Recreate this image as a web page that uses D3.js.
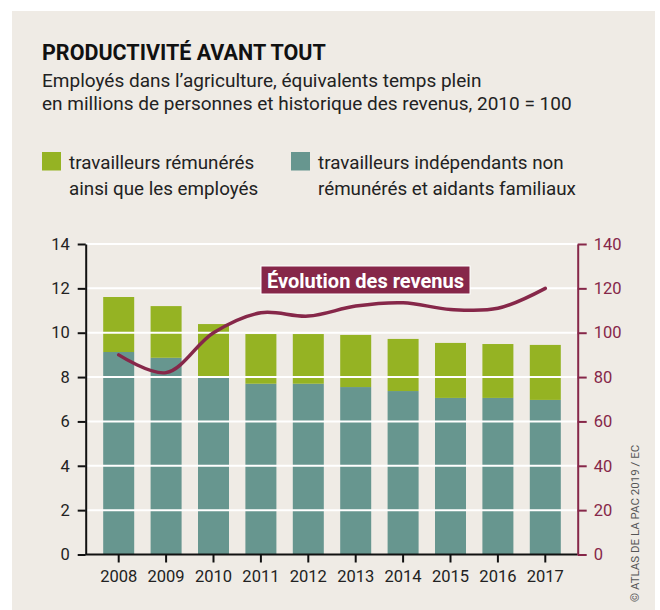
<!DOCTYPE html>
<html>
<head>
<meta charset="utf-8">
<script src="https://cdn.jsdelivr.net/npm/d3@7"></script>
<style>
  body { margin: 0; background: #fff; }
  svg { display: block; font-family: Roboto, "Liberation Sans", sans-serif; }
</style>
</head>
<body>
<svg width="660" height="610"></svg>
<script>
// données
var years = ["2008", "2009", "2010", "2011", "2012", "2013", "2014", "2015", "2016", "2017"];
var independants = [9.13, 8.87, 7.98, 7.70, 7.70, 7.55, 7.37, 7.06, 7.06, 6.97];
var remuneres = [2.48, 2.33, 2.41, 2.24, 2.24, 2.35, 2.35, 2.48, 2.43, 2.48];
var revenus = [90, 82, 100, 109, 107.5, 112, 113.5, 110.5, 111, 120];
var leftTicks = [0, 2, 4, 6, 8, 10, 12, 14];
var rightTicks = [0, 20, 40, 60, 80, 100, 120, 140];

var green = "#95b323", teal = "#67968f", maroon = "#862749", bg = "#efebe5";

var svg = d3.select("svg");

svg.append("rect").attr("x", 12).attr("y", 11).attr("width", 643).attr("height", 599).attr("fill", bg);

// titre
svg.append("text").attr("x", 42).attr("y", 60)
    .style("font-size", "21.5px").style("font-weight", "bold").attr("fill", "#111")
    .text("PRODUCTIVITÉ AVANT TOUT");
svg.append("text").attr("x", 42).attr("y", 86.5)
    .style("font-size", "19px").attr("fill", "#222")
    .text("Employés dans l’agriculture, équivalents temps plein");
svg.append("text").attr("x", 42).attr("y", 110)
    .style("font-size", "19px").attr("fill", "#222")
    .text("en millions de personnes et historique des revenus, 2010 = 100");

// légende
var legend = [
  {x: 42, color: green, lines: ["travailleurs rémunérés", "ainsi que les employés"]},
  {x: 291, color: teal, lines: ["travailleurs indépendants non", "rémunérés et aidants familiaux"]}
];
var lg = svg.selectAll("g.legend").data(legend).enter().append("g").attr("class", "legend");
lg.append("rect").attr("x", function(d) { return d.x; }).attr("y", 152)
    .attr("width", 19).attr("height", 18.5).attr("fill", function(d) { return d.color; });
lg.each(function(d) {
  var t = d3.select(this).append("text").style("font-size", "18.8px").attr("fill", "#222");
  d.lines.forEach(function(l, i) {
    t.append("tspan").attr("x", d.x + 27).attr("y", 168.5 + i * 26).text(l);
  });
});

// échelles
var left = 85.7, right = 577.7, plotTop = 244, bottom = 554.5;
var x = d3.scaleBand().domain(years).range([95, 569]).paddingInner(0.346).paddingOuter(0.173);
var yL = d3.scaleLinear().domain([0, 14]).range([bottom, plotTop]);
var yR = d3.scaleLinear().domain([0, 140]).range([bottom, plotTop]);

var rows = years.map(function(y, i) {
  return {year: y, independants: independants[i], remuneres: remuneres[i]};
});
var series = d3.stack().keys(["independants", "remuneres"])(rows);
var colors = {independants: teal, remuneres: green};

var g = svg.append("g");
g.selectAll("g.serie").data(series).enter().append("g")
    .attr("fill", function(d) { return colors[d.key]; })
  .selectAll("rect").data(function(d) { return d; }).enter().append("rect")
    .attr("x", function(d) { return x(d.data.year); })
    .attr("width", x.bandwidth())
    .attr("y", function(d) { return yL(d[1]); })
    .attr("height", function(d) { return yL(d[0]) - yL(d[1]); });

// grille blanche par-dessus les barres
g.selectAll("line.grid").data(leftTicks.filter(function(t) { return t > 0; })).enter().append("line")
    .attr("x1", left).attr("x2", right)
    .attr("y1", function(d) { return yL(d); }).attr("y2", function(d) { return yL(d); })
    .attr("stroke", "#fff").attr("stroke-width", 2);

// axes
var axL = svg.append("g").attr("transform", "translate(" + left + ",0)")
    .call(d3.axisLeft(yL).tickValues(leftTicks).tickSize(8).tickSizeOuter(0).tickPadding(8));
var axB = svg.append("g").attr("transform", "translate(0," + bottom + ")")
    .call(d3.axisBottom(x).tickSize(8).tickSizeOuter(0).tickPadding(8));
axB.select(".domain").attr("d", "M" + left + ",0H" + right);
var axR = svg.append("g").attr("transform", "translate(" + right + ",0)")
    .call(d3.axisRight(yR).tickValues(rightTicks).tickSize(9).tickSizeOuter(0).tickPadding(7));

[axL, axB, axR].forEach(function(a) {
  a.attr("font-family", null).attr("font-size", null);
  a.selectAll("text").style("font-size", "16.5px");
});
[axL, axB].forEach(function(a) {
  a.selectAll("path, line").attr("stroke", "#111").attr("stroke-width", 2);
  a.selectAll("text").attr("fill", "#222");
});
axR.selectAll("path, line").attr("stroke", maroon).attr("stroke-width", 2);
axR.selectAll("text").attr("fill", maroon);

// courbe des revenus
var line = d3.line()
    .x(function(d, i) { return x(years[i]) + x.bandwidth() / 2; })
    .y(function(d) { return yR(d); })
    .curve(d3.curveCatmullRom.alpha(0.5));
svg.append("path").datum(revenus).attr("d", line)
    .attr("fill", "none").attr("stroke", maroon).attr("stroke-width", 3.5).attr("stroke-linecap", "round");

// étiquette
var lab = svg.append("g");
lab.append("rect").attr("x", 261).attr("y", 266).attr("width", 209).attr("height", 28)
    .attr("fill", maroon).attr("stroke", "#fff").attr("stroke-width", 1);
lab.append("text").attr("x", 365.5).attr("y", 288).attr("text-anchor", "middle")
    .style("font-size", "20px").style("font-weight", "bold").attr("fill", "#fff")
    .text("Évolution des revenus");

// source
svg.append("text").attr("transform", "translate(639,602) rotate(-90)")
    .style("font-size", "11.5px").attr("fill", "#555")
    .text("© ATLAS DE LA PAC 2019 / EC");
</script>
</body>
</html>
